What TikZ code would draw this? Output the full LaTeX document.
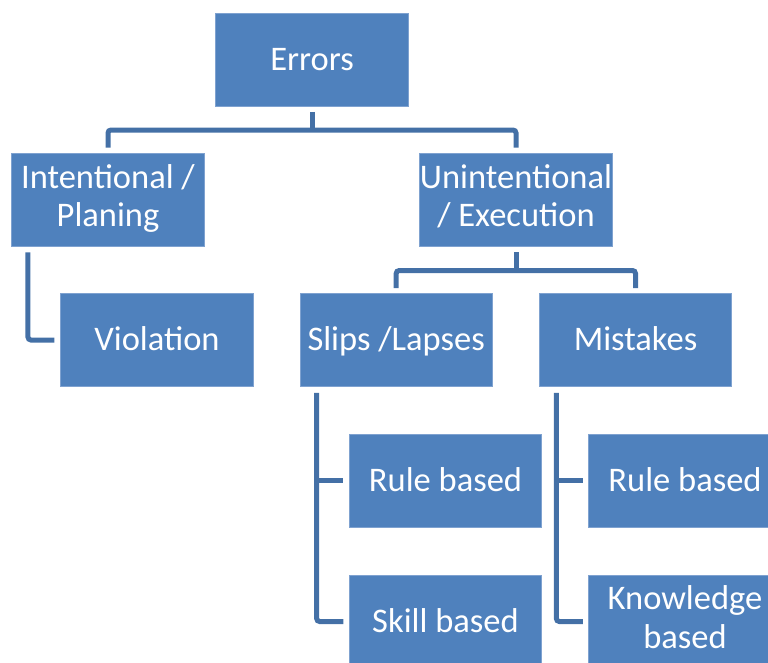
\documentclass[tikz,border=0pt]{standalone}
\usepackage{fontspec}
\setmainfont{Carlito}
\newcommand\boxstrut{\vrule width 0pt height 29.75pt depth 8.75pt\relax}
\begin{document}
\begin{tikzpicture}[x=1pt,y=-1pt,
  box/.style={rectangle, fill=boxblue, draw=boxedge, line width=0.6pt,
    minimum width=192.5pt, minimum height=93pt, inner sep=0pt,
    text=white, align=center, font=\fontsize{34.5}{38.5}\selectfont,
    execute at begin node=\boxstrut, execute at end node=\boxstrut},
  conn/.style={draw=connblue, line width=5pt, rounded corners=3pt}]
\definecolor{boxblue}{HTML}{4F81BD}
\definecolor{boxedge}{HTML}{7FA2D0}
\definecolor{connblue}{HTML}{4470A6}
\useasboundingbox (0,0) rectangle (768,662);
\clip (0,0) rectangle (768,662);

% boxes
\node[box] (err)   at (312,59.5)  {Errors};
\node[box] (int)   at (108,200)   {Intentional /\\Planing};
\node[box] (unint) at (516,200)   {Unintentional\\/ Execution};
\node[box] (viol)  at (157,340)   {Violation};
\node[box] (slips) at (396.2,340) {Slips /Lapses};
\node[box] (mist)  at (635.5,340) {Mistakes};
\node[box] (rule1) at (445.5,480.5) {Rule based};
\node[box] (skill) at (445.5,621.5) {Skill based};
\node[box] (rule2) at (685,480.5) {Rule based};
\node[box] (know)  at (685,621.5) {Knowledge\\based};

% Errors -> two branches
\coordinate (b1) at (312,130);
\draw[conn] ([yshift=-5.5pt]err.south) -- (b1);
\draw[conn] ([yshift=5.5pt]int.north) |- (b1) -| ([yshift=5.5pt]unint.north);

% Unintentional -> Slips / Mistakes
\coordinate (b2) at (516,270.5);
\draw[conn] ([yshift=-5.5pt]unint.south) -- (b2);
\draw[conn] ([yshift=5pt]slips.north) |- (b2) -| ([yshift=5pt]mist.north);

% Intentional -> Violation
\draw[conn] ([xshift=16.5pt,yshift=-5.5pt]int.south west) |- ([xshift=-6pt]viol.west);

% Slips -> Rule based / Skill based
\coordinate (v1) at ([xshift=17pt,yshift=-6pt]slips.south west);
\draw[conn] (v1) |- ([xshift=-5.5pt]skill.west);
\draw[conn] (v1 |- rule1.west) -- ([xshift=-5.5pt]rule1.west);

% Mistakes -> Rule based / Knowledge based
\coordinate (v2) at ([xshift=17.4pt,yshift=-6pt]mist.south west);
\draw[conn] (v2) |- ([xshift=-5.5pt]know.west);
\draw[conn] (v2 |- rule2.west) -- ([xshift=-5.5pt]rule2.west);
\end{tikzpicture}
\end{document}
